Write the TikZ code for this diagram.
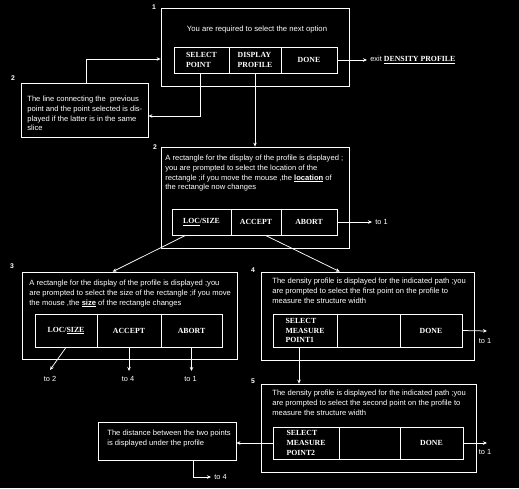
\documentclass[tikz,border=0pt]{standalone}
\usepackage{fontspec}
\setmainfont{Liberation Serif}
\setsansfont{Liberation Sans}
\usetikzlibrary{arrows.meta,positioning}

\begin{document}
\begin{tikzpicture}[x=1pt, y=-1pt, white, line width=0.75pt,
        >={Stealth[length=4pt,width=3.5pt]}]
      \tikzstyle{frame} = [draw, rectangle, inner sep=0pt]
      \tikzstyle{msg} = [font=\sffamily\fontsize{7.6}{9.6}\selectfont, align=left, anchor=north west, inner sep=0pt]
      \tikzstyle{btn} = [draw, rectangle, inner sep=0pt, align=left, font=\rmfamily\bfseries\fontsize{7.8}{9.8}\selectfont]
      \tikzstyle{tag} = [font=\sffamily\fontsize{7.4}{8}\selectfont, inner sep=0pt]
      \tikzstyle{num} = [font=\sffamily\bfseries\fontsize{6.8}{8}\selectfont, inner sep=0pt]
      \fill[black] (0,0) rectangle (519,488);
      % 1: next option
      \node (opt) [frame, minimum width=188pt, minimum height=78pt] at (255,47) {};
      \node (num1) [num] at (154,7) {1};
      \node (ask) [tag, font=\sffamily\fontsize{7.7}{9}\selectfont] at (257,30) {You are required to select the next option};
      \node (selpt) [btn, minimum width=55pt, minimum height=26pt] at (201.5,60) {SELECT\\POINT};
      \node (disp) [btn, minimum width=52pt, minimum height=26pt] at (255,60) {DISPLAY\\PROFILE};
      \node (done1) [btn, minimum width=56pt, minimum height=26pt] at (309,60) {DONE};
      \coordinate (exit) at (367,60);
      \node (exittxt) [tag, anchor=west] at (370,60) {exit {\rmfamily\bfseries\fontsize{7.8}{9}\selectfont\underline{DENSITY PROFILE}}};
      % 2: line to previous point
      \node (note) [frame, minimum width=127pt, minimum height=54pt] at (84.5,110) {};
      \node (num2a) [num] at (13,78) {2};
      \node (notetxt) [msg] at (27,96) {The line connecting the\ \ previous\\point and the point selected is dis-\\played if the latter is in the same\\slice};
      % 2: location of the rectangle
      \node (loc) [frame, minimum width=188pt, minimum height=101pt] at (255,197.5) {};
      \node (num2b) [num] at (155,147) {2};
      \node (loctxt) [msg] at (165,155) {A rectangle for the display of the profile is displayed ;\\you are prompted to select the location of the\\rectangle ;if you move the mouse ,the \textbf{\underline{location}} of\\the rectangle now changes};
      \node (locsz) [btn, minimum width=59pt, minimum height=26pt] at (201.5,222) {\underline{LOC}/SIZE};
      \node (accept2) [btn, minimum width=50pt, minimum height=26pt] at (256,222) {ACCEPT};
      \node (abort2) [btn, minimum width=56pt, minimum height=26pt] at (309,222) {ABORT};
      \coordinate (back2) at (372,222);
      \node (to1a) [tag, anchor=west] at (375,222) {to 1};
      % 3: size of the rectangle
      \node (size) [frame, minimum width=215pt, minimum height=87pt] at (129.5,315.5) {};
      \node (num3) [num] at (12,266) {3};
      \node (sizetxt) [msg] at (29,280) {A rectangle for the display of the profile is displayed ;you\\are prompted to select the size of the rectangle ;if you move\\the mouse ,the \textbf{\underline{size}} of the rectangle changes};
      \node (locsz3) [btn, minimum width=62pt, minimum height=33pt] at (66,330.5) {LOC/\underline{SIZE}};
      \node (accept3) [btn, minimum width=64pt, minimum height=33pt] at (129,330.5) {ACCEPT};
      \node (abort3) [btn, minimum width=61pt, minimum height=33pt] at (191.5,330.5) {ABORT};
      \coordinate (back3a) at (50,370);
      \coordinate (back3b) at (129,371);
      \coordinate (back3c) at (191.5,371);
      \node (to2) [tag] at (50,379) {to 2};
      \node (to4a) [tag] at (128,379) {to 4};
      \node (to1b) [tag] at (190.5,379) {to 1};
      % 4: first measure point
      \node (first) [frame, minimum width=213pt, minimum height=88pt] at (367.5,316) {};
      \node (num4) [num] at (253,270) {4};
      \node (firsttxt) [msg] at (272,278) {The density profile is displayed for the indicated path ;you\\are prompted to select the first point on the profile to\\measure the structure width};
      \node (sel4) [btn, minimum width=64pt, minimum height=33pt] at (305,330.5) {SELECT\\MEASURE\\POINT1};
      \node (blank4) [btn, minimum width=63pt, minimum height=33pt] at (368.5,330.5) {};
      \node (done4) [btn, minimum width=62pt, minimum height=33pt] at (431,330.5) {DONE};
      \coordinate (back4) at (487,331);
      \node (to1c) [tag] at (485,341) {to 1};
      % 5: second measure point
      \node (second) [frame, minimum width=215pt, minimum height=88pt] at (368.5,428) {};
      \node (num5) [num] at (253,381) {5};
      \node (secondtxt) [msg] at (272,390) {The density profile is displayed for the indicated path ;you\\are prompted to select the second point on the profile to\\measure the structure width};
      \node (sel5) [btn, minimum width=66pt, minimum height=32pt] at (306,443) {SELECT\\MEASURE\\POINT2};
      \node (blank5) [btn, minimum width=61pt, minimum height=32pt] at (369.5,443) {};
      \node (done5) [btn, minimum width=63pt, minimum height=32pt] at (431.5,443) {DONE};
      \coordinate (back5) at (487,443);
      \node (to1d) [tag] at (485,452) {to 1};
      % distance shown
      \node (dist) [frame, minimum width=138pt, minimum height=38pt] at (167,441) {};
      \node (disttxt) [msg] at (107,430) {The distance between the two points\\is displayed under the profile};
      \coordinate (back6) at (211,477);
      \node (to4b) [tag, anchor=west] at (214,477) {to 4};
      % connectors
      \coordinate (bendA) at (86,59);
      \coordinate (bendB) at (200,116);
      \coordinate (bendC) at (299,0);
      \draw[->] (done1.east) -- (exit);
      \draw[->] (note.north -| bendA) |- (opt.west |- bendA);
      \draw[->] (selpt.south -| bendB) |- (note.east |- bendB);
      \draw[->] (disp.south) -- (loc.north);
      \draw[->] (abort2.east) -- (back2);
      \draw[->] (locsz.220) -- (size.111);
      \draw[->] (accept2.305) -- (first.122);
      \draw[->] (locsz3.south) -- (back3a);
      \draw[->] (accept3.south) -- (back3b);
      \draw[->] (abort3.south) -- (back3c);
      \draw[->] (done4.east) -- (back4);
      \draw[->] (sel4.south -| bendC) -- (second.north -| bendC);
      \draw[->] (done5.east) -- (back5);
      \draw[->] (sel5.west) -- (dist.east |- sel5.west);
      \draw[->] (dist.south -| 193,0) |- (back6);
    \end{tikzpicture}
\end{document}
